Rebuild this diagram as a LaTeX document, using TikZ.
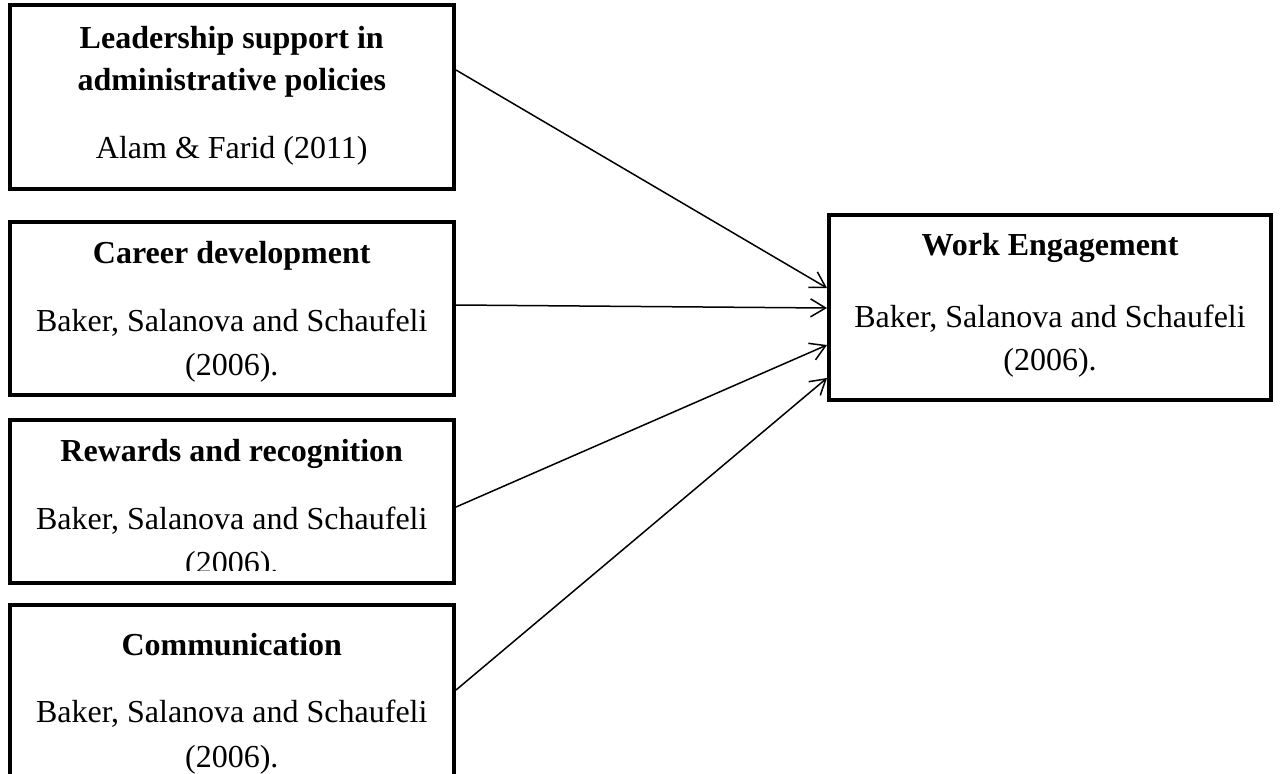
\documentclass[tikz,border=0pt]{standalone}
\usepackage{fontspec}
\setmainfont{Liberation Serif}
\usetikzlibrary{arrows.meta}
\begin{document}
\begin{tikzpicture}[x=1pt,y=-1pt,
  box/.style={draw,line width=4pt,rectangle,inner sep=0pt,outer sep=0pt},
  ttl/.style={anchor=base,font=\fontsize{32}{38}\selectfont\bfseries,inner sep=0pt},
  txt/.style={anchor=base,font=\fontsize{32}{38}\selectfont,inner sep=0pt},
  link/.style={line width=1.5pt,-{Straight Barb[length=15pt,width=18pt,line width=1.5pt]}}]
\useasboundingbox (0,0) rectangle (1281,773);
\begin{scope}
\clip (0,0) rectangle (1281,773);
% boxes
\node[box,minimum width=444.5pt,minimum height=183pt] (b1) at (231.75,97) {};
\node[box,minimum width=444.5pt,minimum height=173pt] (b2) at (231.75,308) {};
\node[box,minimum width=444.5pt,minimum height=163pt] (b3) at (231.75,501) {};
\node[box,minimum width=444.5pt,minimum height=195pt] (b4) at (231.75,702.5) {};
\node[box,minimum width=442pt,minimum height=184.5pt] (we) at (1050,307.25) {};
% texts
\node[ttl] (b1a) at (231.75,49) {Leadership support in};
\node[ttl] (b1b) at (231.75,91) {administrative policies};
\node[txt] (b1c) at (231.75,158) {Alam \& Farid (2011)};
\node[ttl] (b2a) at (231.75,263) {Career development};
\node[txt] (b2b) at (231.75,331) {Baker, Salanova and Schaufeli};
\node[txt] (b2c) at (231.75,375) {(2006).};
\node[ttl] (b3a) at (231.75,461) {Rewards and recognition};
\node[txt] (b3b) at (231.75,529) {Baker, Salanova and Schaufeli};
\begin{scope}
\clip (0,0) rectangle (1281,570);
\node[txt] (b3c) at (231.75,573) {(2006).};
\end{scope}
\node[ttl] (b4a) at (231.75,655) {Communication};
\node[txt] (b4b) at (231.75,722) {Baker, Salanova and Schaufeli};
\node[txt] (b4c) at (231.75,767) {(2006).};
\node[ttl] (wea) at (1050,255) {Work Engagement};
\node[txt] (web) at (1050,327) {Baker, Salanova and Schaufeli};
\node[txt] (wec) at (1050,370) {(2006).};
% connector end points
\coordinate (s1) at (456,70);
\coordinate (s2) at (456,305);
\coordinate (s3) at (456,507);
\coordinate (s4) at (456,690);
\coordinate (t1) at (827,288);
\coordinate (t2) at (827,308);
\coordinate (t3) at (827,345);
\coordinate (t4) at (827,378);
\draw[link] (s1) -- (t1);
\draw[link] (s2) -- (t2);
\draw[link] (s3) -- (t3);
\draw[link] (s4) -- (t4);
\end{scope}
\end{tikzpicture}
\end{document}
